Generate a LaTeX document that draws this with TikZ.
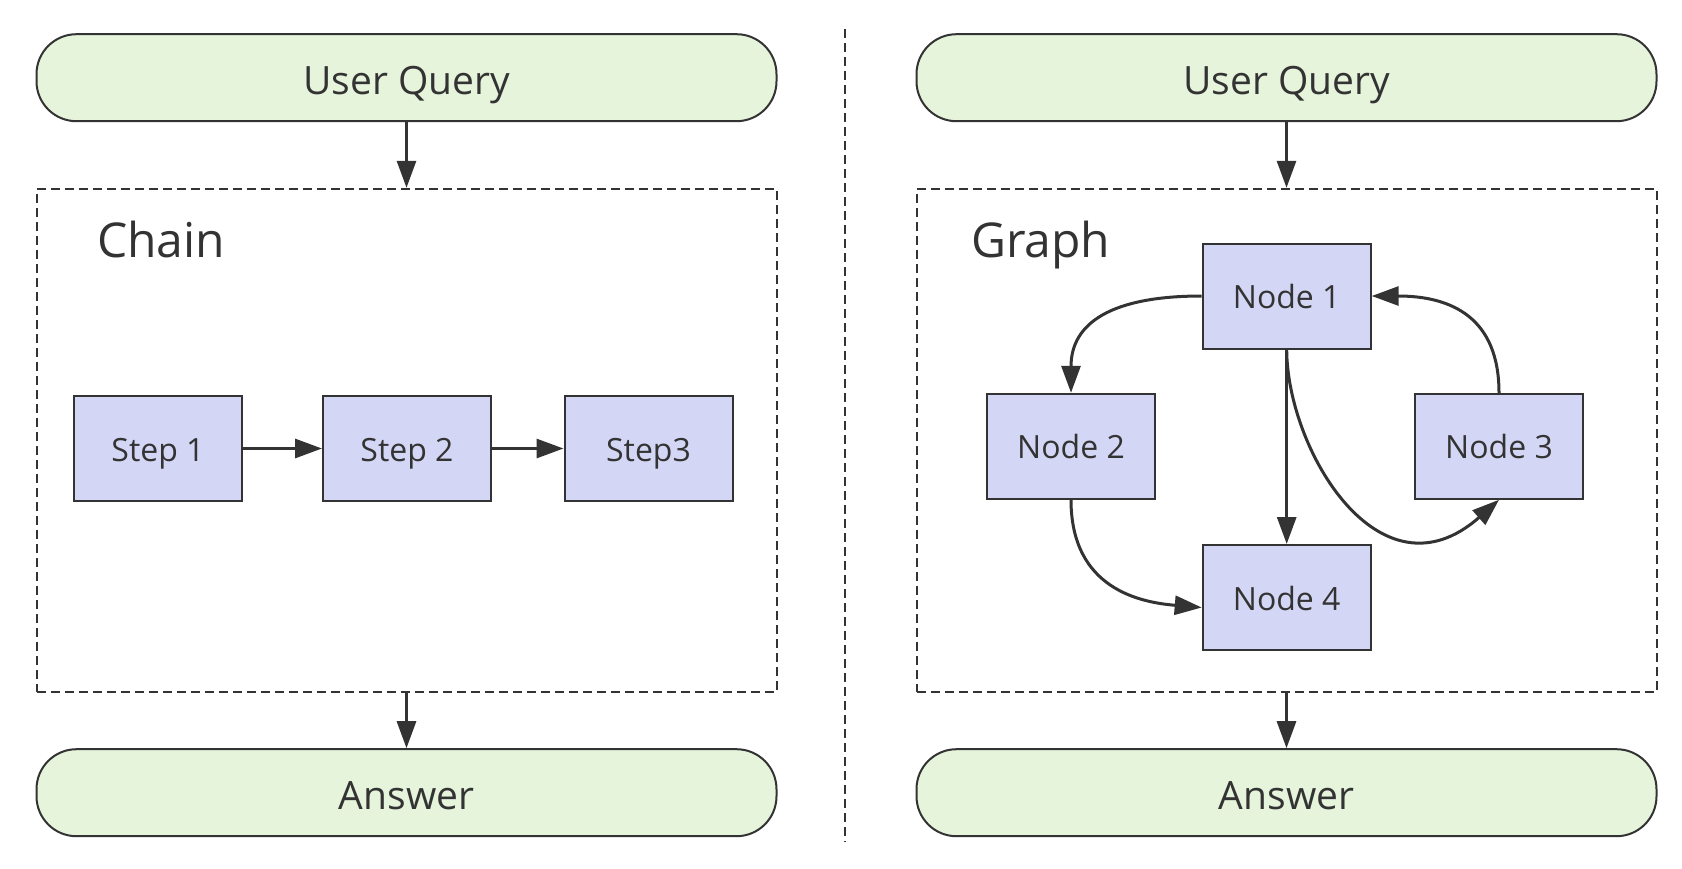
\documentclass[tikz,border=0pt]{standalone}
\usepackage{fontspec}
\setmainfont{Open Sans}
\usetikzlibrary{arrows.meta}
\definecolor{pillfill}{HTML}{E6F4DC}
\definecolor{boxfill}{HTML}{D4D6F5}
\definecolor{ink}{HTML}{333333}
\tikzset{
  pill/.style={draw=ink, line width=2pt, fill=pillfill, rounded corners=40pt,
    minimum width=740pt, minimum height=87pt, inner sep=0pt, text=ink,
    text height=33pt, text depth=0pt,
    font=\fontsize{39}{44}\selectfont},
  stepbox/.style={draw=ink, line width=2pt, fill=boxfill, minimum width=168pt,
    minimum height=105pt, inner sep=0pt, text=ink, text height=25pt, text depth=0pt,
    font=\fontsize{32}{36}\selectfont},
  frame/.style={draw=ink, line width=2pt, dash pattern=on 9pt off 5pt,
    minimum width=740pt, minimum height=503pt, inner sep=0pt},
  title/.style={text=ink, font=\fontsize{48}{54}\selectfont, inner sep=0pt, anchor=base west},
  arr/.style={draw=ink, line width=3pt, -{Triangle[length=27pt,width=19pt]}},
}
\begin{document}
\begin{tikzpicture}[x=1pt,y=-1pt]
\useasboundingbox (0,0) rectangle (1682,868);
% divider
\coordinate (dtop) at (845,29);
\coordinate (dbot) at (845,842);
\draw[ink, line width=2pt, dash pattern=on 9pt off 5pt] (dtop) -- (dbot);
% left column
\node[pill] (uq1) at (406.5,77.7) {User Query};
\node[frame] (chain) at (406.5,440.3) {};
\node[pill] (ans1) at (406.5,792.7) {Answer};
\node[title] (chaint) at (97,257) {Chain};
\node[stepbox] (s1) at (158,448.5) {Step 1};
\node[stepbox] (s2) at (407,448.5) {Step 2};
\node[stepbox] (s3) at (648.5,448.5) {Step3};
\draw[arr] (uq1) -- (chain);
\draw[arr] (chain) -- (ans1);
\draw[arr] (s1) -- (s2);
\draw[arr] (s2) -- (s3);
% right column
\node[pill] (uq2) at (1286.5,77.7) {User Query};
\node[frame] (graph) at (1286.5,440.3) {};
\node[pill] (ans2) at (1286.5,792.7) {Answer};
\node[title] (grapht) at (971,257) {Graph};
\node[stepbox] (n1) at (1286.7,296) {Node 1};
\node[stepbox] (n2) at (1071,446.3) {Node 2};
\node[stepbox] (n3) at (1499,446.3) {Node 3};
\node[stepbox] (n4) at (1286.7,597.5) {Node 4};
\draw[arr] (uq2) -- (graph);
\draw[arr] (graph) -- (ans2);
\draw[arr] (n1.west) .. controls +(-90,0) and +(0,-70) .. (n2.north);
\draw[arr] (n3.north) .. controls +(0,-75) and +(80,0) .. (n1.east);
\draw[arr] (n1) -- (n4);
\draw[arr] (n1.south) .. controls (1287,450) and (1380,605) .. (n3.south);
\draw[arr] (n2.south) .. controls +(0,90) and +(-60,-5) .. ([yshift=-10pt]n4.west);
\end{tikzpicture}
\end{document}
